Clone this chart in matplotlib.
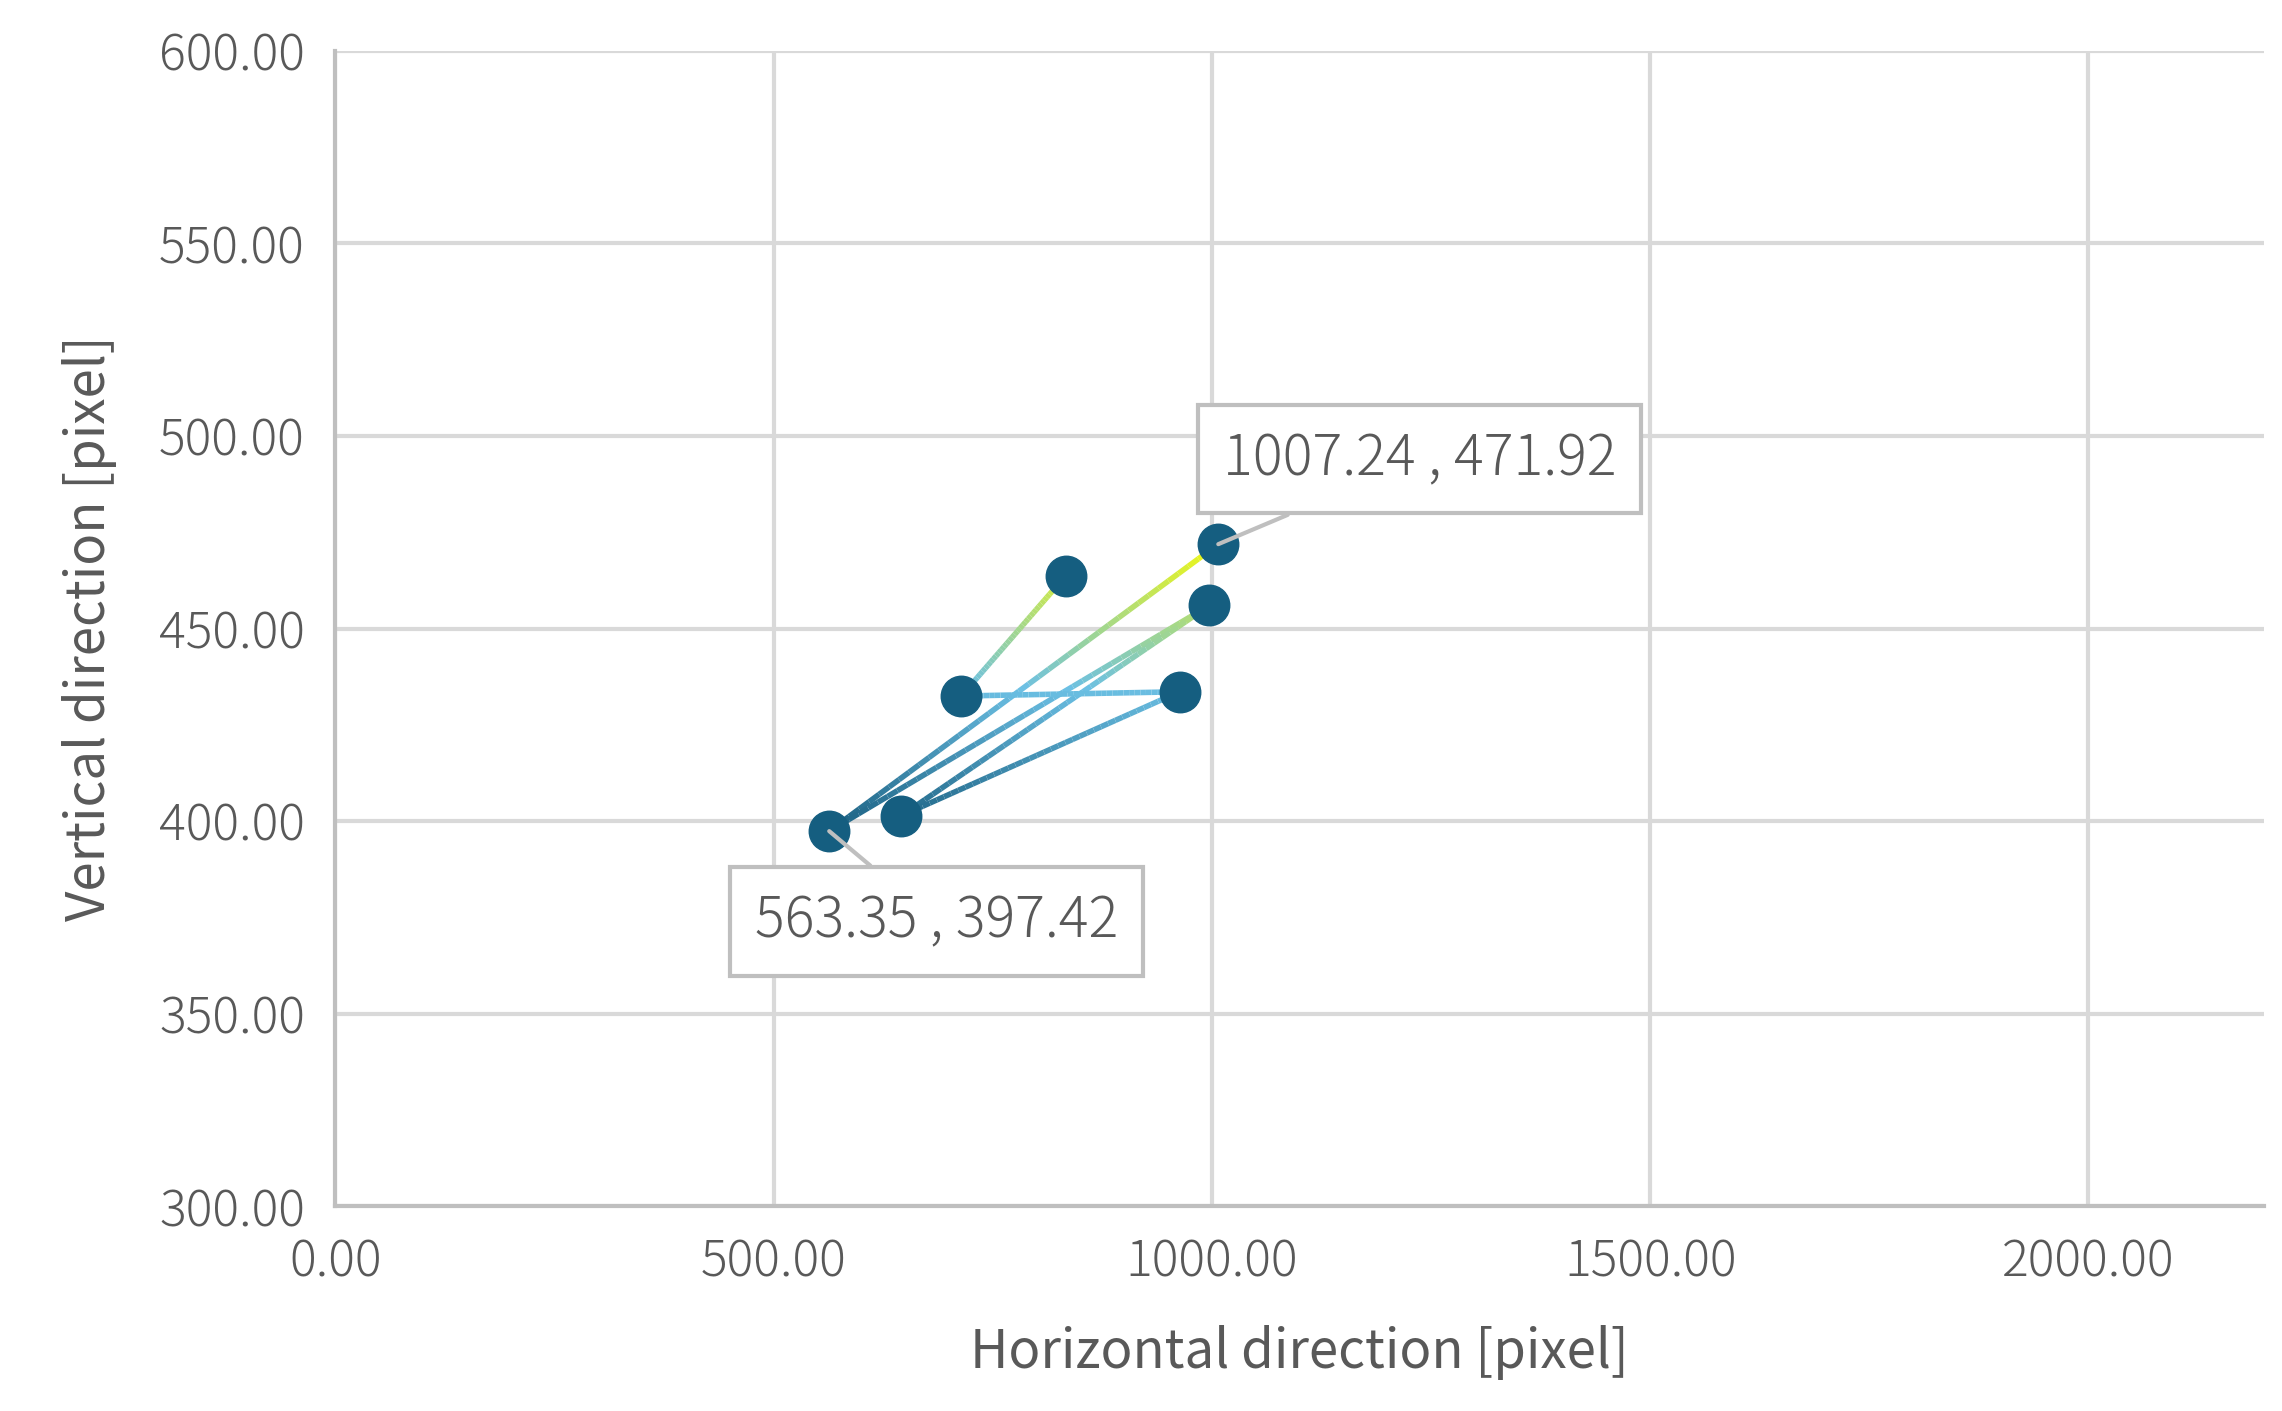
import numpy as np
import matplotlib.pyplot as plt
from matplotlib.collections import LineCollection
from matplotlib.colors import LinearSegmentedColormap

plt.rcParams['font.family'] = ['Noto Sans CJK JP', 'DejaVu Sans']
plt.rcParams['font.weight'] = 'light'

# path order of the measured points
xs = [1007.24, 563.35, 997.0, 645.5, 963.0, 714.0, 833.0]
ys = [471.92, 397.42, 456.0, 401.4, 433.6, 432.5, 463.7]
labels = [(0, '1007.24 , 471.92', (1237, 494)), (1, '563.35 , 397.42', (686, 374))]

grey = '#595959'
fig = plt.figure(figsize=(22.82, 14.11), dpi=100)
ax = fig.add_axes([0.147, 0.145, 0.845, 0.819])

# gradient line, colour by height (dark blue -> light blue -> yellow)
cmap = LinearSegmentedColormap.from_list('g', ['#1a5f80', '#6cc0e4', '#f2f90f'])
segs = []
cols = []
for i in range(len(xs) - 1):
    n = 40
    px = np.linspace(xs[i], xs[i+1], n)
    py = np.linspace(ys[i], ys[i+1], n)
    for j in range(n - 1):
        segs.append([(px[j], py[j]), (px[j+1], py[j+1])])
        cols.append(((py[j] + py[j+1]) / 2 - 397) / (472 - 397))
lc = LineCollection(segs, colors=cmap(np.clip(cols, 0, 1)), linewidths=4, zorder=3)
ax.add_collection(lc)
ax.scatter(xs, ys, s=850, color='#155e80', zorder=4)

for idx, txt, pos in labels:
    ax.annotate(txt, xy=(xs[idx], ys[idx]), xytext=pos, fontsize=40, color=grey,
                ha='center', va='center', zorder=5,
                bbox=dict(boxstyle='square,pad=0.45', fc='white', ec='#bfbfbf', lw=3),
                arrowprops=dict(arrowstyle='-', color='#bfbfbf', lw=3, shrinkA=0, shrinkB=0))

ax.set_xlim(0, 2200)
ax.set_ylim(300, 600)
ax.set_xticks([0, 500, 1000, 1500, 2000])
ax.set_yticks(np.arange(300, 601, 50))
ax.xaxis.set_major_formatter(lambda v, p: f'{v:.2f}')
ax.yaxis.set_major_formatter(lambda v, p: f'{v:.2f}')
ax.grid(color='#d9d9d9', lw=3)
ax.set_axisbelow(True)
for s in ['top', 'right']:
    ax.spines[s].set_visible(False)
for s in ['left', 'bottom']:
    ax.spines[s].set_color('#bfbfbf')
    ax.spines[s].set_linewidth(3)
ax.tick_params(length=0, labelsize=36, colors=grey, pad=22)
ax.set_xlabel('Horizontal direction [pixel]', fontsize=38, color=grey, labelpad=26)
ax.set_ylabel('Vertical direction [pixel]', fontsize=38, color=grey, labelpad=30)

fig.savefig('out.png')
